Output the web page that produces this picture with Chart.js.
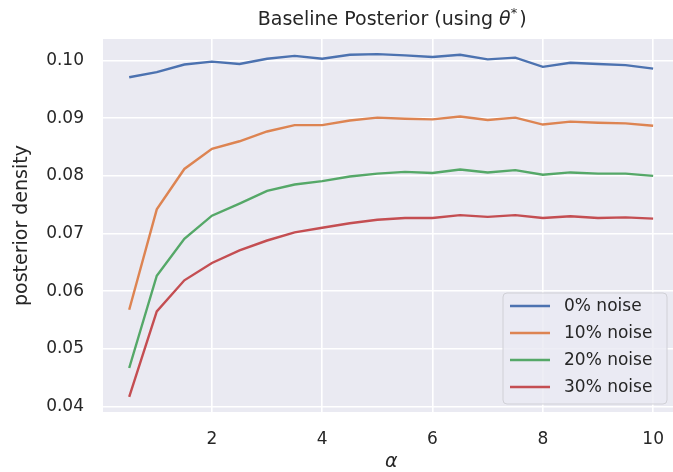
<!DOCTYPE html>
<html>
<head>
<meta charset="utf-8">
<script src="https://cdn.jsdelivr.net/npm/chart.js@4"></script>
<style>
  html, body { margin: 0; padding: 0; background: #fff; overflow: hidden; }
  #wrap { width: 673px; height: 472px; overflow: hidden; }
</style>
</head>
<body>
<div id="wrap"><canvas id="chart" width="681" height="472"></canvas></div>
<script>
// alpha values on the x axis
var alphas = [0.5, 1, 1.5, 2, 2.5, 3, 3.5, 4, 4.5, 5, 5.5, 6, 6.5, 7, 7.5, 8, 8.5, 9, 9.5, 10];

// posterior density for each noise level
var noise0 = [0.0971, 0.0980, 0.0993, 0.0998, 0.0994, 0.1003, 0.1008, 0.1003, 0.1010, 0.1011,
              0.1009, 0.1006, 0.1010, 0.1002, 0.1005, 0.0989, 0.0996, 0.0994, 0.0992, 0.0986];
var noise10 = [0.0568, 0.0742, 0.0812, 0.0847, 0.0860, 0.0877, 0.0888, 0.0888, 0.0896, 0.0901,
               0.0899, 0.0898, 0.0903, 0.0897, 0.0901, 0.0889, 0.0894, 0.0892, 0.0891, 0.0887];
var noise20 = [0.0467, 0.0627, 0.0691, 0.0731, 0.0752, 0.0774, 0.0785, 0.0791, 0.0799, 0.0804,
               0.0807, 0.0805, 0.0811, 0.0806, 0.0810, 0.0802, 0.0806, 0.0804, 0.0804, 0.0800];
var noise30 = [0.0417, 0.0565, 0.0619, 0.0649, 0.0671, 0.0688, 0.0702, 0.0710, 0.0718, 0.0724,
               0.0727, 0.0727, 0.0732, 0.0729, 0.0732, 0.0727, 0.0730, 0.0727, 0.0728, 0.0726];

var seriesLabels = ['0% noise', '10% noise', '20% noise', '30% noise'];
var seriesColors = ['#4c72b0', '#dd8452', '#55a868', '#c44e52'];

var xTicks = [2, 4, 6, 8, 10];
var yTicks = [0.04, 0.05, 0.06, 0.07, 0.08, 0.09, 0.10];

var FONT = '"DejaVu Sans", sans-serif';
var TEXT = '#262626';

function pts(values) {
  return values.map(function(v, i) { return { x: alphas[i], y: v }; });
}

// fond gris seaborn derriere la zone de trace
var bgPlugin = {
  id: 'bg',
  beforeDraw: function(chart) {
    var a = chart.chartArea, ctx = chart.ctx;
    ctx.save();
    ctx.fillStyle = '#eaeaf2';
    ctx.fillRect(a.left, a.top, a.right - a.left, a.bottom - a.top);
    ctx.restore();
  }
};

// titre, labels des axes et legende
var textPlugin = {
  id: 'texts',
  afterDraw: function(chart) {
    var a = chart.chartArea, ctx = chart.ctx;
    var cx = (a.left + a.right) / 2;
    ctx.save();
    ctx.fillStyle = TEXT;

    // title with italic theta and superscript star
    var parts = [
      { t: 'Baseline Posterior (using ', f: '19px ' + FONT, dy: 0 },
      { t: '\u03b8', f: 'italic 19px ' + FONT, dy: 0 },
      { t: '*', f: '13px ' + FONT, dy: -8 },
      { t: ')', f: '19px ' + FONT, dy: 0 }
    ];
    var total = 0;
    parts.forEach(function(p) { ctx.font = p.f; p.w = ctx.measureText(p.t).width; total += p.w; });
    var x = cx - total / 2;
    ctx.textBaseline = 'alphabetic';
    ctx.textAlign = 'left';
    parts.forEach(function(p) {
      ctx.font = p.f;
      ctx.fillText(p.t, x, 25 + p.dy);
      x += p.w + (p.t === '*' ? 2 : 0);
    });

    // x label
    ctx.font = 'italic 19px ' + FONT;
    ctx.textAlign = 'center';
    ctx.textBaseline = 'middle';
    ctx.fillText('\u03b1', cx, 462);

    // y label
    ctx.save();
    ctx.translate(22, (a.top + a.bottom) / 2);
    ctx.rotate(-Math.PI / 2);
    ctx.font = '19px ' + FONT;
    ctx.fillText('posterior density', 0, 0);
    ctx.restore();

    // legend
    var lx = 503, ly = 293, lw = 164, lh = 111;
    ctx.beginPath();
    ctx.roundRect(lx, ly, lw, lh, 4);
    ctx.fillStyle = 'rgba(234,234,242,0.8)';
    ctx.fill();
    ctx.strokeStyle = '#d0d0d6';
    ctx.lineWidth = 1;
    ctx.stroke();
    ctx.font = '17px ' + FONT;
    ctx.textAlign = 'left';
    ctx.textBaseline = 'middle';
    chart.data.datasets.forEach(function(ds, i) {
      var yy = 306 + i * 27;
      ctx.strokeStyle = ds.borderColor;
      ctx.lineWidth = 2.4;
      ctx.beginPath();
      ctx.moveTo(510, yy);
      ctx.lineTo(550, yy);
      ctx.stroke();
      ctx.fillStyle = TEXT;
      ctx.fillText(ds.label, 564, yy + 1);
    });
    ctx.restore();
  }
};

var datasets = [noise0, noise10, noise20, noise30].map(function(vals, i) {
  return {
    label: seriesLabels[i],
    data: pts(vals),
    borderColor: seriesColors[i],
    backgroundColor: seriesColors[i],
    borderWidth: 2.4,
    pointRadius: 0,
    tension: 0,
    fill: false
  };
});

new Chart(document.getElementById('chart'), {
  type: 'line',
  data: { datasets: datasets },
  plugins: [bgPlugin, textPlugin],
  options: {
    responsive: false,
    animation: false,
    layout: { padding: { top: 39, left: 0, right: 1, bottom: 0 } },
    plugins: {
      legend: { display: false },
      title: { display: false },
      tooltip: { enabled: false }
    },
    scales: {
      x: {
        type: 'linear',
        min: 0.025,
        max: 10.475,
        afterBuildTicks: function(scale) { scale.ticks = xTicks.map(function(v) { return { value: v }; }); },
        afterFit: function(scale) { scale.height = 60; },
        grid: { color: '#ffffff', lineWidth: 1.6, drawTicks: false },
        border: { display: false },
        ticks: {
          padding: 17,
          color: TEXT,
          font: { family: FONT, size: 17 },
          maxRotation: 0,
          callback: function(v) { return String(v); }
        }
      },
      y: {
        type: 'linear',
        min: 0.03907,
        max: 0.10373,
        afterBuildTicks: function(scale) { scale.ticks = yTicks.map(function(v) { return { value: v }; }); },
        afterFit: function(scale) { scale.width = 103; },
        grid: { color: '#ffffff', lineWidth: 1.6, drawTicks: false },
        border: { display: false },
        ticks: {
          padding: 19,
          color: TEXT,
          font: { family: FONT, size: 17 },
          callback: function(v) { return v.toFixed(2); }
        }
      }
    }
  }
});
</script>
</body>
</html>
